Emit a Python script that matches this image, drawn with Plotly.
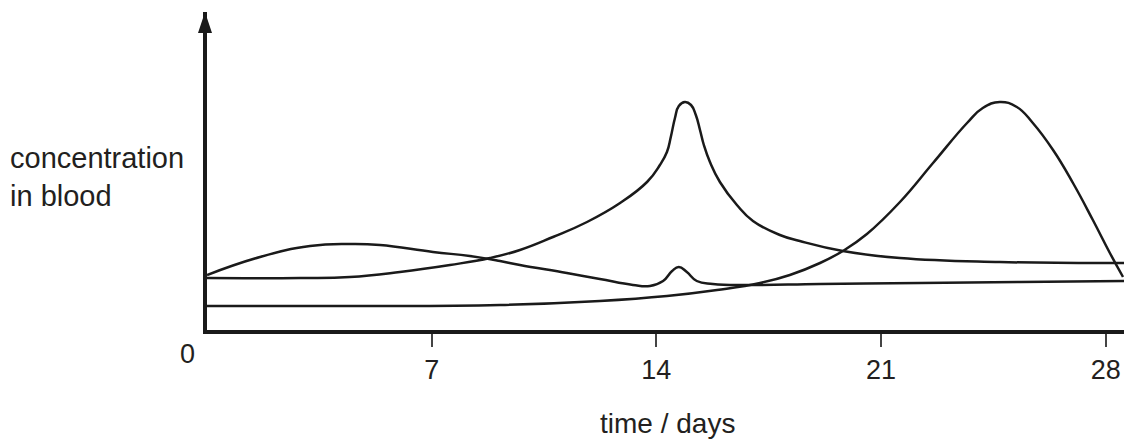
import plotly.graph_objects as go

# ---- data (days, arbitrary concentration units) ----
lh_days = [0, 2.90, 4.45, 6.01, 7.57, 8.82, 9.75, 10.78, 11.84, 12.87, 13.71, 14.11, 14.33,
           14.45, 14.58, 14.70, 14.89, 15.08, 15.23, 15.36, 15.48, 15.67, 15.98, 16.51,
           17.01, 17.85, 18.47, 19.81, 21.59, 24.70, 28.57]
lh_conc = [5.2, 5.2, 5.3, 5.8, 6.5, 7.2, 8.0, 9.3, 10.8, 12.7, 14.8, 16.5, 17.8,
           19.3, 21.2, 22.4, 22.8, 22.5, 21.5, 20.0, 18.5, 16.8, 14.8, 12.5,
           10.9, 9.5, 8.9, 7.9, 7.2, 6.8, 6.7]

oes_days = [0, 1.65, 3.21, 4.45, 5.39, 7.04, 8.19, 9.13, 9.75, 11.21, 12.24, 13.27, 13.80,
            14.21, 14.49, 14.70, 14.95, 15.26, 15.76, 16.92, 19.10, 22.21, 25.33, 28.57]
oes_conc = [5.5, 7.3, 8.4, 8.6, 8.5, 7.8, 7.4, 6.9, 6.5, 5.7, 5.1, 4.5, 4.4,
            4.9, 5.9, 6.3, 5.8, 4.9, 4.6, 4.5, 4.6, 4.7, 4.8, 4.9]

pro_days = [0, 4.45, 9.13, 12.24, 14.33, 15.89, 17.23, 18.16, 19.10, 19.81, 20.56, 21.59,
            22.62, 23.68, 24.17, 24.70, 25.23, 25.73, 26.36, 26.98, 27.60, 28.13, 28.54]
pro_conc = [2.4, 2.4, 2.5, 2.9, 3.4, 4.0, 4.7, 5.5, 6.7, 7.9, 9.6, 12.8,
            16.7, 20.7, 22.2, 22.8, 22.3, 20.7, 18.0, 14.7, 11.0, 7.7, 5.3]

tick_vals = [7, 14, 21, 28]
tick_text = ["7", "14", "21", "28"]

FONT = "Liberation Sans, Arial, Helvetica, sans-serif"
TXT = "#231f20"
LINE = dict(color="#1a1a1a", width=2.5, shape="spline", smoothing=1.3)

fig = go.Figure()
for xs, ys in [(lh_days, lh_conc), (oes_days, oes_conc), (pro_days, pro_conc)]:
    fig.add_trace(go.Scatter(x=xs, y=ys, mode="lines", line=LINE,
                             showlegend=False, hoverinfo="skip"))

Y_TOP = 31.8
X_END = 28.57

fig.update_layout(
    width=1124, height=439,
    margin=dict(l=207, r=0, t=12, b=109),
    paper_bgcolor="white", plot_bgcolor="white",
    font=dict(family=FONT, size=27, color=TXT),
    xaxis=dict(range=[0, X_END], showgrid=False, zeroline=False,
               showline=True, linecolor="#1a1a1a", linewidth=4,
               tickmode="array", tickvals=tick_vals, ticktext=tick_text,
               ticks="outside", ticklen=13, tickwidth=2, tickcolor="#444",
               tickfont=dict(family=FONT, size=27, color=TXT),
               ticklabelstandoff=0, fixedrange=True),
    yaxis=dict(range=[0, Y_TOP], showgrid=False, zeroline=False,
               showline=True, linecolor="#1a1a1a", linewidth=4,
               showticklabels=False, ticks="", fixedrange=True),
    shapes=[dict(type="path", xref="paper", yref="paper", xsizemode="pixel", ysizemode="pixel",
                 xanchor=0, yanchor=1, path="M -9,-21 L 5,-21 L -2,0 Z",
                 fillcolor="#1a1a1a", line=dict(width=0), layer="above")],
    annotations=[
        dict(text="concentration<br>in blood", xref="paper", yref="paper",
             x=(8 - 207) / 917, y=(330 - 177.5) / 318, xanchor="left", yanchor="middle",
             align="left", showarrow=False, font=dict(family=FONT, size=29, color=TXT)),
        dict(text="time / days", xref="paper", yref="paper",
             x=(667 - 207) / 917, y=(330 - 423) / 318, xanchor="center", yanchor="middle",
             showarrow=False, font=dict(family=FONT, size=28, color=TXT)),
        dict(text="0", xref="paper", yref="paper",
             x=(187 - 207) / 917, y=(330 - 354) / 318, xanchor="center", yanchor="middle",
             showarrow=False, font=dict(family=FONT, size=27, color=TXT)),
    ],
)

fig.write_html("out.html", config={"displayModeBar": False},
               post_script="document.body.style.margin='0';")
